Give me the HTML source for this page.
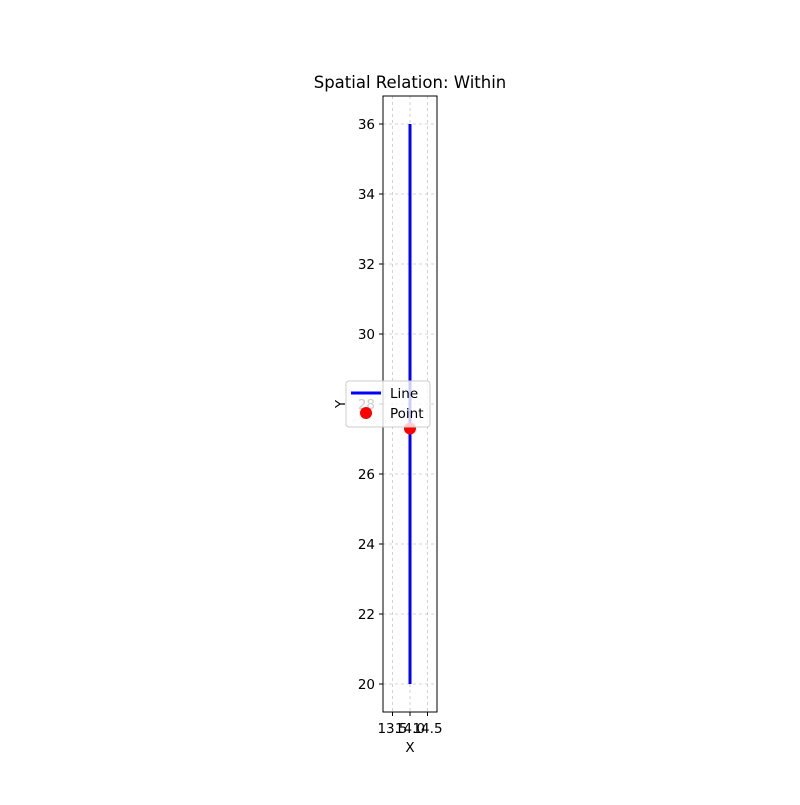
<!DOCTYPE html>
<html><head><meta charset="utf-8"><style>
body{margin:0;background:#fff}
svg text{font-family:"DejaVu Sans","Liberation Sans",sans-serif}
</style></head><body>
<svg id="c" width="800" height="800" viewBox="0 0 800 800">
<rect width="800" height="800" fill="#fff"/>
<g id="grid"></g>
<g id="marks"></g>
<rect x="383" y="96" width="54" height="616" fill="none" stroke="#000" stroke-width="1"/>
<g id="ticks"></g>
<text x="410" y="88" text-anchor="middle" font-size="16.5">Spatial Relation: Within</text>
<text x="410" y="752" text-anchor="middle" font-size="13.5">X</text>
<text x="345" y="404" text-anchor="middle" font-size="13.5" transform="rotate(-90 345 404)">Y</text>
<g>
<rect x="346" y="381" width="84" height="46" rx="3" fill="#fff" fill-opacity="0.8" stroke="#ccc"/>
<line x1="351" y1="393" x2="381" y2="393" stroke="#00f" stroke-width="3"/>
<text x="390" y="398" font-size="13.5">Line</text>
<circle cx="366" cy="413" r="6" fill="#f00"/>
<text x="390" y="418" font-size="13.5">Point</text>
</g>
</svg>
<script>
const xTicks=[13.5,14.0,14.5];
const xTickLabels=["13.5","14.0","14.5"];
const yTicks=[20,22,24,26,28,30,32,34,36];
const lineX=[14.0,14.0];
const lineY=[20,36];
const pointX=[14.0];
const pointY=[27.3];
const x0=383,x1=437,y0=712,y1=96,xmin=13.229,xmax=14.771,ymin=19.2,ymax=36.8;
const sx=v=>x0+(v-xmin)/(xmax-xmin)*(x1-x0);
const sy=v=>y0-(v-ymin)/(ymax-ymin)*(y0-y1);
const NS="http://www.w3.org/2000/svg";
const G=document.getElementById('grid'),M=document.getElementById('marks'),T=document.getElementById('ticks');
function mk(t,a,p){const e=document.createElementNS(NS,t);for(const k in a)e.setAttribute(k,a[k]);p.appendChild(e);return e;}
xTicks.forEach((v,i)=>{const x=sx(v);
const g=mk('line',{x1:x,x2:x,y1:y1,y2:y0,stroke:'#b0b0b0','stroke-width':0.8,'stroke-dasharray':'3,3',opacity:0.7},G);


mk('line',{x1:x,x2:x,y1:y0,y2:y0+4,stroke:'#000'},T);
const t=mk('text',{x:x,y:y0+21,'text-anchor':'middle','font-size':13.5},T);t.textContent=xTickLabels[i];

});
yTicks.forEach(v=>{const y=sy(v);
const g=mk('line',{x1:x0,x2:x1,y1:y,y2:y,stroke:'#b0b0b0','stroke-width':0.8,'stroke-dasharray':'3,3',opacity:0.7},G);


mk('line',{x1:x0-4,x2:x0,y1:y,y2:y,stroke:'#000'},T);
const t=mk('text',{x:x0-8,y:y+5,'text-anchor':'end','font-size':13.5},T);t.textContent=v;

});
const l=mk('line',{x1:sx(lineX[0]),y1:sy(lineY[0]),x2:sx(lineX[1]),y2:sy(lineY[1]),stroke:'#00f','stroke-width':3},M);


pointX.forEach((v,i)=>{const c=mk('circle',{cx:sx(v),cy:sy(pointY[i]),r:6,fill:'#f00'},M);

});
</script>
</body></html>
